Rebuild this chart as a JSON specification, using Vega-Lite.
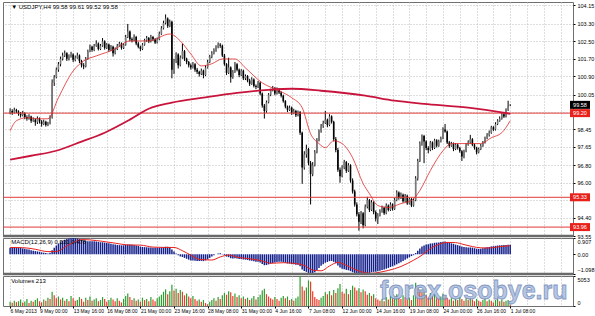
{
"$schema": "https://vega.github.io/schema/vega-lite/v6.json",
"background": "white",
"padding": {"left": 1, "top": 1, "right": 0, "bottom": 0},
"spacing": 2,
"bounds": "flush",
"config": {
 "view": {"stroke": "#707070", "strokeWidth": 1},
 "axis": {"labelFont": "Liberation Sans", "labelFontSize": 5.5, "labelColor": "#000000", "domain": false, "tickColor": "#000000", "tickSize": 2, "gridColor": "#bdbdbd", "gridDash": [1, 2], "gridWidth": 1, "title": null, "labelOverlap": false, "minExtent": 0, "tickCount": 100},
 "text": {"font": "Liberation Sans"}
},
"datasets": {
 "bars": [
{"i":0,"o":99.25,"h":99.42,"l":99.15,"c":99.30,"v":700,"u":1,"m":0.37},
{"i":1,"o":99.30,"h":99.38,"l":99.12,"c":99.22,"v":550,"u":0,"m":0.39},
{"i":2,"o":99.22,"h":99.45,"l":99.18,"c":99.35,"v":900,"u":1,"m":0.40},
{"i":3,"o":99.35,"h":99.40,"l":99.20,"c":99.28,"v":650,"u":0,"m":0.39},
{"i":4,"o":99.28,"h":99.33,"l":99.08,"c":99.18,"v":800,"u":1,"m":0.37},
{"i":5,"o":99.18,"h":99.25,"l":99.00,"c":99.10,"v":1100,"u":1,"m":0.35},
{"i":6,"o":99.10,"h":99.30,"l":99.05,"c":99.20,"v":600,"u":0,"m":0.33},
{"i":7,"o":99.20,"h":99.24,"l":98.92,"c":99.02,"v":750,"u":1,"m":0.31},
{"i":8,"o":99.02,"h":99.10,"l":98.85,"c":98.95,"v":1200,"u":1,"m":0.28},
{"i":9,"o":98.95,"h":99.15,"l":98.90,"c":99.05,"v":500,"u":0,"m":0.26},
{"i":10,"o":99.05,"h":99.08,"l":98.75,"c":98.85,"v":900,"u":1,"m":0.23},
{"i":11,"o":98.85,"h":99.00,"l":98.80,"c":98.90,"v":700,"u":0,"m":0.20},
{"i":12,"o":98.90,"h":98.95,"l":98.62,"c":98.78,"v":1000,"u":1,"m":0.18},
{"i":13,"o":98.78,"h":99.05,"l":98.70,"c":98.95,"v":1300,"u":1,"m":0.16},
{"i":14,"o":98.95,"h":99.00,"l":98.72,"c":98.82,"v":800,"u":0,"m":0.14},
{"i":15,"o":98.82,"h":98.88,"l":98.58,"c":98.70,"v":650,"u":0,"m":0.11},
{"i":16,"o":98.70,"h":98.90,"l":98.65,"c":98.80,"v":1100,"u":1,"m":0.09},
{"i":17,"o":98.80,"h":98.85,"l":98.58,"c":98.65,"v":900,"u":0,"m":0.07},
{"i":18,"o":98.65,"h":98.80,"l":98.60,"c":98.72,"v":1400,"u":1,"m":0.05},
{"i":19,"o":98.72,"h":99.10,"l":98.68,"c":99.00,"v":1200,"u":0,"m":0.09},
{"i":20,"o":99.00,"h":100.75,"l":98.95,"c":100.60,"v":2400,"u":1,"m":0.23},
{"i":21,"o":100.60,"h":100.95,"l":100.45,"c":100.85,"v":1800,"u":0,"m":0.37},
{"i":22,"o":100.85,"h":101.30,"l":100.80,"c":101.20,"v":1300,"u":0,"m":0.49},
{"i":23,"o":101.20,"h":101.55,"l":101.10,"c":101.45,"v":1600,"u":1,"m":0.59},
{"i":24,"o":101.45,"h":101.80,"l":101.35,"c":101.70,"v":1100,"u":0,"m":0.68},
{"i":25,"o":101.70,"h":101.98,"l":101.62,"c":101.85,"v":1400,"u":1,"m":0.75},
{"i":26,"o":101.85,"h":102.08,"l":101.78,"c":101.95,"v":900,"u":0,"m":0.81},
{"i":27,"o":101.95,"h":102.00,"l":101.60,"c":101.70,"v":1200,"u":1,"m":0.85},
{"i":28,"o":101.70,"h":101.90,"l":101.62,"c":101.80,"v":800,"u":0,"m":0.88},
{"i":29,"o":101.80,"h":102.02,"l":101.75,"c":101.90,"v":1700,"u":1,"m":0.90},
{"i":30,"o":101.90,"h":101.95,"l":101.55,"c":101.65,"v":1300,"u":0,"m":0.907},
{"i":31,"o":101.65,"h":101.85,"l":101.58,"c":101.75,"v":900,"u":0,"m":0.90},
{"i":32,"o":101.75,"h":101.98,"l":101.70,"c":101.85,"v":1000,"u":1,"m":0.88},
{"i":33,"o":101.85,"h":101.90,"l":101.50,"c":101.60,"v":1500,"u":1,"m":0.85},
{"i":34,"o":101.60,"h":101.65,"l":101.30,"c":101.40,"v":1200,"u":0,"m":0.80},
{"i":35,"o":101.40,"h":101.50,"l":101.22,"c":101.35,"v":700,"u":0,"m":0.76},
{"i":36,"o":101.35,"h":101.78,"l":101.30,"c":101.70,"v":1400,"u":1,"m":0.74},
{"i":37,"o":101.70,"h":102.12,"l":101.65,"c":102.05,"v":1000,"u":0,"m":0.73},
{"i":38,"o":102.05,"h":102.35,"l":102.00,"c":102.25,"v":1600,"u":1,"m":0.73},
{"i":39,"o":102.25,"h":102.30,"l":102.02,"c":102.10,"v":900,"u":0,"m":0.72},
{"i":40,"o":102.10,"h":102.38,"l":102.05,"c":102.30,"v":1100,"u":1,"m":0.72},
{"i":41,"o":102.30,"h":102.55,"l":102.25,"c":102.40,"v":1300,"u":1,"m":0.71},
{"i":42,"o":102.40,"h":102.45,"l":102.08,"c":102.15,"v":800,"u":0,"m":0.69},
{"i":43,"o":102.15,"h":102.38,"l":102.10,"c":102.30,"v":1000,"u":1,"m":0.67},
{"i":44,"o":102.30,"h":102.65,"l":102.25,"c":102.50,"v":1500,"u":1,"m":0.67},
{"i":45,"o":102.50,"h":102.55,"l":102.12,"c":102.20,"v":1200,"u":0,"m":0.65},
{"i":46,"o":102.20,"h":102.42,"l":102.15,"c":102.35,"v":700,"u":0,"m":0.63},
{"i":47,"o":102.35,"h":102.40,"l":102.02,"c":102.10,"v":1000,"u":1,"m":0.61},
{"i":48,"o":102.10,"h":102.33,"l":102.05,"c":102.25,"v":1400,"u":1,"m":0.59},
{"i":49,"o":102.25,"h":102.30,"l":101.80,"c":101.95,"v":1100,"u":0,"m":0.56},
{"i":50,"o":101.95,"h":102.22,"l":101.90,"c":102.15,"v":800,"u":0,"m":0.54},
{"i":51,"o":102.15,"h":102.38,"l":102.10,"c":102.30,"v":1300,"u":1,"m":0.52},
{"i":52,"o":102.30,"h":102.48,"l":102.25,"c":102.40,"v":900,"u":0,"m":0.51},
{"i":53,"o":102.40,"h":102.45,"l":102.12,"c":102.20,"v":600,"u":0,"m":0.50},
{"i":54,"o":102.20,"h":102.42,"l":102.15,"c":102.35,"v":1200,"u":1,"m":0.50},
{"i":55,"o":102.35,"h":102.80,"l":102.30,"c":102.70,"v":1700,"u":1,"m":0.52},
{"i":56,"o":102.70,"h":103.30,"l":102.65,"c":102.95,"v":2100,"u":1,"m":0.55},
{"i":57,"o":102.95,"h":103.00,"l":102.50,"c":102.60,"v":1500,"u":0,"m":0.55},
{"i":58,"o":102.60,"h":102.68,"l":102.45,"c":102.55,"v":1000,"u":0,"m":0.53},
{"i":59,"o":102.55,"h":102.82,"l":102.50,"c":102.70,"v":1300,"u":1,"m":0.52},
{"i":60,"o":102.70,"h":102.75,"l":102.32,"c":102.40,"v":900,"u":0,"m":0.49},
{"i":61,"o":102.40,"h":102.48,"l":102.18,"c":102.25,"v":1100,"u":1,"m":0.46},
{"i":62,"o":102.25,"h":102.30,"l":102.05,"c":102.15,"v":700,"u":0,"m":0.43},
{"i":63,"o":102.15,"h":102.42,"l":102.10,"c":102.35,"v":1400,"u":1,"m":0.41},
{"i":64,"o":102.35,"h":102.62,"l":102.30,"c":102.55,"v":1000,"u":0,"m":0.40},
{"i":65,"o":102.55,"h":102.75,"l":102.48,"c":102.65,"v":1200,"u":1,"m":0.39},
{"i":66,"o":102.65,"h":102.70,"l":102.42,"c":102.50,"v":800,"u":0,"m":0.38},
{"i":67,"o":102.50,"h":102.80,"l":102.45,"c":102.70,"v":1500,"u":1,"m":0.38},
{"i":68,"o":102.70,"h":102.75,"l":102.52,"c":102.60,"v":1100,"u":0,"m":0.37},
{"i":69,"o":102.60,"h":102.65,"l":102.38,"c":102.45,"v":800,"u":0,"m":0.36},
{"i":70,"o":102.45,"h":102.68,"l":102.40,"c":102.60,"v":1300,"u":1,"m":0.36},
{"i":71,"o":102.60,"h":102.95,"l":102.55,"c":102.85,"v":1600,"u":1,"m":0.36},
{"i":72,"o":102.85,"h":103.20,"l":102.80,"c":103.10,"v":1900,"u":1,"m":0.38},
{"i":73,"o":103.10,"h":103.45,"l":103.05,"c":103.35,"v":2400,"u":1,"m":0.40},
{"i":74,"o":103.35,"h":103.74,"l":103.28,"c":103.55,"v":2800,"u":1,"m":0.42},
{"i":75,"o":103.55,"h":103.60,"l":103.12,"c":103.20,"v":2000,"u":0,"m":0.42},
{"i":76,"o":103.20,"h":103.50,"l":103.15,"c":103.40,"v":2500,"u":1,"m":0.41},
{"i":77,"o":103.40,"h":103.45,"l":100.80,"c":101.20,"v":3600,"u":1,"m":0.26},
{"i":78,"o":101.20,"h":101.70,"l":101.00,"c":101.60,"v":2600,"u":0,"m":0.15},
{"i":79,"o":101.60,"h":102.00,"l":101.50,"c":101.90,"v":2900,"u":1,"m":0.05},
{"i":80,"o":101.90,"h":101.95,"l":101.25,"c":101.40,"v":2200,"u":0,"m":-0.05},
{"i":81,"o":101.40,"h":101.85,"l":101.35,"c":101.75,"v":2700,"u":1,"m":-0.12},
{"i":82,"o":101.75,"h":102.40,"l":101.70,"c":102.05,"v":2400,"u":0,"m":-0.15},
{"i":83,"o":102.05,"h":102.10,"l":101.60,"c":101.70,"v":1800,"u":0,"m":-0.20},
{"i":84,"o":101.70,"h":101.75,"l":101.45,"c":101.55,"v":2100,"u":1,"m":-0.25},
{"i":85,"o":101.55,"h":101.60,"l":101.30,"c":101.40,"v":1600,"u":0,"m":-0.30},
{"i":86,"o":101.40,"h":101.48,"l":101.20,"c":101.30,"v":1300,"u":0,"m":-0.34},
{"i":87,"o":101.30,"h":101.55,"l":101.25,"c":101.45,"v":1700,"u":1,"m":-0.35},
{"i":88,"o":101.45,"h":101.50,"l":101.10,"c":101.20,"v":1200,"u":0,"m":-0.36},
{"i":89,"o":101.20,"h":101.28,"l":101.00,"c":101.10,"v":900,"u":0,"m":-0.37},
{"i":90,"o":101.10,"h":101.15,"l":100.88,"c":101.00,"v":1100,"u":1,"m":-0.38},
{"i":91,"o":101.00,"h":101.25,"l":100.95,"c":101.15,"v":700,"u":0,"m":-0.37},
{"i":92,"o":101.15,"h":101.20,"l":100.80,"c":100.95,"v":1000,"u":1,"m":-0.38},
{"i":93,"o":100.95,"h":101.40,"l":100.90,"c":101.30,"v":500,"u":0,"m":-0.34},
{"i":94,"o":101.30,"h":101.65,"l":101.25,"c":101.55,"v":300,"u":0,"m":-0.28},
{"i":95,"o":101.55,"h":101.88,"l":101.50,"c":101.80,"v":700,"u":1,"m":-0.20},
{"i":96,"o":101.80,"h":102.05,"l":101.72,"c":101.95,"v":1000,"u":1,"m":-0.13},
{"i":97,"o":101.95,"h":102.18,"l":101.90,"c":102.10,"v":1300,"u":1,"m":-0.06},
{"i":98,"o":102.10,"h":102.32,"l":102.02,"c":102.25,"v":900,"u":0,"m":0.00},
{"i":99,"o":102.25,"h":102.45,"l":102.18,"c":102.35,"v":1500,"u":1,"m":0.04},
{"i":100,"o":102.35,"h":102.42,"l":102.20,"c":102.30,"v":1200,"u":0,"m":0.06},
{"i":101,"o":102.30,"h":102.35,"l":101.78,"c":101.85,"v":1800,"u":1,"m":0.02},
{"i":102,"o":101.85,"h":101.92,"l":101.38,"c":101.45,"v":2200,"u":1,"m":-0.05},
{"i":103,"o":101.45,"h":101.50,"l":100.95,"c":101.05,"v":1900,"u":0,"m":-0.13},
{"i":104,"o":101.05,"h":101.75,"l":101.00,"c":101.30,"v":2500,"u":1,"m":-0.16},
{"i":105,"o":101.30,"h":101.35,"l":100.60,"c":100.85,"v":2300,"u":0,"m":-0.22},
{"i":106,"o":100.85,"h":101.18,"l":100.78,"c":101.10,"v":1700,"u":0,"m":-0.24},
{"i":107,"o":101.10,"h":101.55,"l":101.05,"c":101.45,"v":2100,"u":1,"m":-0.22},
{"i":108,"o":101.45,"h":101.50,"l":101.12,"c":101.20,"v":1500,"u":0,"m":-0.23},
{"i":109,"o":101.20,"h":101.25,"l":100.85,"c":100.95,"v":1800,"u":1,"m":-0.26},
{"i":110,"o":100.95,"h":101.22,"l":100.90,"c":101.15,"v":1300,"u":0,"m":-0.26},
{"i":111,"o":101.15,"h":101.20,"l":100.72,"c":100.80,"v":1600,"u":1,"m":-0.29},
{"i":112,"o":100.80,"h":100.98,"l":100.72,"c":100.90,"v":1200,"u":0,"m":-0.30},
{"i":113,"o":100.90,"h":100.95,"l":100.62,"c":100.70,"v":1400,"u":1,"m":-0.32},
{"i":114,"o":100.70,"h":100.78,"l":100.45,"c":100.55,"v":1000,"u":0,"m":-0.35},
{"i":115,"o":100.55,"h":100.85,"l":100.50,"c":100.75,"v":1300,"u":1,"m":-0.36},
{"i":116,"o":100.75,"h":100.80,"l":100.38,"c":100.45,"v":1700,"u":1,"m":-0.39},
{"i":117,"o":100.45,"h":100.52,"l":100.30,"c":100.40,"v":1100,"u":0,"m":-0.42},
{"i":118,"o":100.40,"h":100.68,"l":100.35,"c":100.60,"v":1500,"u":1,"m":-0.42},
{"i":119,"o":100.60,"h":100.65,"l":100.02,"c":100.10,"v":1900,"u":1,"m":-0.46},
{"i":120,"o":100.10,"h":100.15,"l":99.45,"c":99.55,"v":2600,"u":1,"m":-0.54},
{"i":121,"o":99.55,"h":99.62,"l":98.95,"c":99.30,"v":2900,"u":1,"m":-0.61},
{"i":122,"o":99.30,"h":99.78,"l":99.22,"c":99.70,"v":2000,"u":0,"m":-0.60},
{"i":123,"o":99.70,"h":100.12,"l":99.65,"c":100.05,"v":1600,"u":0,"m":-0.56},
{"i":124,"o":100.05,"h":100.32,"l":99.98,"c":100.25,"v":1300,"u":0,"m":-0.52},
{"i":125,"o":100.25,"h":100.45,"l":100.20,"c":100.35,"v":1100,"u":0,"m":-0.48},
{"i":126,"o":100.35,"h":100.40,"l":100.02,"c":100.10,"v":1500,"u":1,"m":-0.46},
{"i":127,"o":100.10,"h":100.38,"l":100.05,"c":100.30,"v":1200,"u":0,"m":-0.43},
{"i":128,"o":100.30,"h":100.35,"l":100.08,"c":100.15,"v":900,"u":0,"m":-0.42},
{"i":129,"o":100.15,"h":100.20,"l":99.92,"c":100.00,"v":1400,"u":1,"m":-0.42},
{"i":130,"o":100.00,"h":100.05,"l":99.68,"c":99.75,"v":1700,"u":1,"m":-0.44},
{"i":131,"o":99.75,"h":99.80,"l":99.42,"c":99.50,"v":1300,"u":0,"m":-0.47},
{"i":132,"o":99.50,"h":99.55,"l":99.25,"c":99.35,"v":1600,"u":1,"m":-0.51},
{"i":133,"o":99.35,"h":99.55,"l":99.30,"c":99.45,"v":1000,"u":0,"m":-0.52},
{"i":134,"o":99.45,"h":99.50,"l":99.12,"c":99.20,"v":1200,"u":1,"m":-0.55},
{"i":135,"o":99.20,"h":99.40,"l":99.15,"c":99.30,"v":900,"u":0,"m":-0.56},
{"i":136,"o":99.30,"h":99.35,"l":99.02,"c":99.10,"v":1300,"u":1,"m":-0.58},
{"i":137,"o":99.10,"h":99.32,"l":99.05,"c":99.25,"v":1600,"u":1,"m":-0.58},
{"i":138,"o":99.25,"h":99.30,"l":98.20,"c":98.30,"v":5053,"u":1,"m":-0.66},
{"i":139,"o":98.30,"h":98.35,"l":95.95,"c":96.70,"v":3300,"u":0,"m":-0.85},
{"i":140,"o":96.70,"h":97.45,"l":96.60,"c":97.30,"v":2600,"u":0,"m":-0.93},
{"i":141,"o":97.30,"h":97.75,"l":97.15,"c":97.55,"v":3100,"u":1,"m":-0.98},
{"i":142,"o":97.55,"h":97.60,"l":96.80,"c":96.90,"v":4300,"u":1,"m":-1.05},
{"i":143,"o":96.90,"h":97.00,"l":95.00,"c":96.40,"v":4100,"u":0,"m":-1.098},
{"i":144,"o":96.40,"h":96.95,"l":96.30,"c":96.80,"v":2500,"u":0,"m":-1.08},
{"i":145,"o":96.80,"h":97.50,"l":96.75,"c":97.40,"v":1500,"u":0,"m":-1.00},
{"i":146,"o":97.40,"h":98.05,"l":97.35,"c":97.95,"v":1200,"u":0,"m":-0.88},
{"i":147,"o":97.95,"h":98.45,"l":97.90,"c":98.35,"v":1000,"u":0,"m":-0.76},
{"i":148,"o":98.35,"h":98.70,"l":98.30,"c":98.60,"v":1400,"u":1,"m":-0.64},
{"i":149,"o":98.60,"h":98.85,"l":98.52,"c":98.75,"v":1700,"u":1,"m":-0.55},
{"i":150,"o":98.75,"h":99.30,"l":98.70,"c":98.90,"v":2300,"u":1,"m":-0.47},
{"i":151,"o":98.90,"h":98.95,"l":98.55,"c":98.65,"v":2000,"u":0,"m":-0.43},
{"i":152,"o":98.65,"h":99.15,"l":98.60,"c":99.05,"v":2500,"u":1,"m":-0.38},
{"i":153,"o":99.05,"h":99.10,"l":98.72,"c":98.80,"v":1800,"u":0,"m":-0.37},
{"i":154,"o":98.80,"h":98.85,"l":97.90,"c":98.00,"v":2700,"u":1,"m":-0.42},
{"i":155,"o":98.00,"h":98.10,"l":97.40,"c":97.50,"v":2200,"u":0,"m":-0.50},
{"i":156,"o":97.50,"h":97.60,"l":96.50,"c":96.60,"v":3000,"u":1,"m":-0.62},
{"i":157,"o":96.60,"h":96.70,"l":96.00,"c":96.30,"v":3700,"u":1,"m":-0.74},
{"i":158,"o":96.30,"h":96.80,"l":96.25,"c":96.70,"v":2400,"u":0,"m":-0.80},
{"i":159,"o":96.70,"h":97.05,"l":96.62,"c":96.95,"v":2100,"u":0,"m":-0.83},
{"i":160,"o":96.95,"h":97.00,"l":96.45,"c":96.55,"v":2900,"u":1,"m":-0.87},
{"i":161,"o":96.55,"h":96.90,"l":96.50,"c":96.80,"v":2000,"u":0,"m":-0.89},
{"i":162,"o":96.80,"h":96.85,"l":96.00,"c":96.10,"v":2700,"u":1,"m":-0.94},
{"i":163,"o":96.10,"h":96.20,"l":95.50,"c":95.60,"v":3400,"u":1,"m":-1.00},
{"i":164,"o":95.60,"h":95.68,"l":94.90,"c":95.00,"v":3100,"u":0,"m":-1.04},
{"i":165,"o":95.00,"h":95.10,"l":94.45,"c":94.55,"v":2600,"u":0,"m":-1.07},
{"i":166,"o":94.55,"h":94.65,"l":93.80,"c":94.20,"v":3000,"u":1,"m":-1.09},
{"i":167,"o":94.20,"h":94.70,"l":94.10,"c":94.60,"v":2300,"u":0,"m":-1.09},
{"i":168,"o":94.60,"h":94.65,"l":93.90,"c":94.05,"v":2800,"u":1,"m":-1.09},
{"i":169,"o":94.05,"h":95.00,"l":94.00,"c":94.90,"v":2500,"u":0,"m":-1.08},
{"i":170,"o":94.90,"h":95.35,"l":94.82,"c":95.20,"v":1900,"u":0,"m":-1.06},
{"i":171,"o":95.20,"h":95.25,"l":94.65,"c":94.75,"v":2200,"u":1,"m":-1.04},
{"i":172,"o":94.75,"h":95.20,"l":94.70,"c":95.10,"v":1700,"u":0,"m":-1.00},
{"i":173,"o":95.10,"h":95.15,"l":94.55,"c":94.65,"v":2000,"u":1,"m":-0.98},
{"i":174,"o":94.65,"h":94.72,"l":94.22,"c":94.35,"v":1300,"u":0,"m":-0.97},
{"i":175,"o":94.35,"h":94.60,"l":94.10,"c":94.50,"v":1100,"u":0,"m":-0.95},
{"i":176,"o":94.50,"h":94.78,"l":94.45,"c":94.70,"v":900,"u":0,"m":-0.92},
{"i":177,"o":94.70,"h":94.95,"l":94.62,"c":94.85,"v":1200,"u":1,"m":-0.88},
{"i":178,"o":94.85,"h":94.90,"l":94.52,"c":94.60,"v":800,"u":0,"m":-0.85},
{"i":179,"o":94.60,"h":95.05,"l":94.55,"c":94.95,"v":1500,"u":1,"m":-0.80},
{"i":180,"o":94.95,"h":95.00,"l":94.68,"c":94.75,"v":1100,"u":0,"m":-0.76},
{"i":181,"o":94.75,"h":95.10,"l":94.70,"c":95.00,"v":1700,"u":1,"m":-0.71},
{"i":182,"o":95.00,"h":95.05,"l":94.72,"c":94.80,"v":1300,"u":0,"m":-0.67},
{"i":183,"o":94.80,"h":95.30,"l":94.75,"c":95.20,"v":1600,"u":1,"m":-0.62},
{"i":184,"o":95.20,"h":95.65,"l":95.15,"c":95.55,"v":2000,"u":1,"m":-0.56},
{"i":185,"o":95.55,"h":95.60,"l":95.22,"c":95.30,"v":1400,"u":0,"m":-0.50},
{"i":186,"o":95.30,"h":95.55,"l":95.25,"c":95.45,"v":1200,"u":0,"m":-0.44},
{"i":187,"o":95.45,"h":95.50,"l":95.08,"c":95.15,"v":1800,"u":1,"m":-0.38},
{"i":188,"o":95.15,"h":95.48,"l":95.10,"c":95.40,"v":1500,"u":0,"m":-0.31},
{"i":189,"o":95.40,"h":95.45,"l":94.98,"c":95.05,"v":1100,"u":0,"m":-0.24},
{"i":190,"o":95.05,"h":95.32,"l":95.00,"c":95.25,"v":1400,"u":1,"m":-0.17},
{"i":191,"o":95.25,"h":95.30,"l":94.88,"c":94.95,"v":1000,"u":0,"m":-0.10},
{"i":192,"o":94.95,"h":95.28,"l":94.90,"c":95.20,"v":1800,"u":1,"m":-0.05},
{"i":193,"o":95.20,"h":96.30,"l":95.15,"c":96.20,"v":3900,"u":1,"m":0.07},
{"i":194,"o":96.20,"h":97.10,"l":96.10,"c":97.00,"v":3200,"u":0,"m":0.19},
{"i":195,"o":97.00,"h":97.90,"l":96.95,"c":97.80,"v":2700,"u":0,"m":0.32},
{"i":196,"o":97.80,"h":98.22,"l":97.70,"c":98.15,"v":2300,"u":0,"m":0.43},
{"i":197,"o":98.15,"h":98.20,"l":96.90,"c":97.90,"v":2900,"u":1,"m":0.49},
{"i":198,"o":97.90,"h":97.95,"l":97.50,"c":97.60,"v":1800,"u":0,"m":0.54},
{"i":199,"o":97.60,"h":97.68,"l":97.35,"c":97.50,"v":1400,"u":0,"m":0.56},
{"i":200,"o":97.50,"h":97.92,"l":97.45,"c":97.85,"v":2200,"u":1,"m":0.60},
{"i":201,"o":97.85,"h":97.90,"l":97.50,"c":97.60,"v":1700,"u":0,"m":0.61},
{"i":202,"o":97.60,"h":98.02,"l":97.55,"c":97.95,"v":2000,"u":1,"m":0.64},
{"i":203,"o":97.95,"h":98.00,"l":97.62,"c":97.70,"v":1500,"u":0,"m":0.65},
{"i":204,"o":97.70,"h":97.98,"l":97.65,"c":97.90,"v":1200,"u":0,"m":0.66},
{"i":205,"o":97.90,"h":98.12,"l":97.85,"c":98.05,"v":1600,"u":1,"m":0.68},
{"i":206,"o":98.05,"h":98.55,"l":98.00,"c":98.45,"v":2100,"u":1,"m":0.70},
{"i":207,"o":98.45,"h":98.70,"l":98.30,"c":98.35,"v":1800,"u":0,"m":0.71},
{"i":208,"o":98.35,"h":98.40,"l":97.78,"c":97.85,"v":1400,"u":0,"m":0.69},
{"i":209,"o":97.85,"h":97.92,"l":97.60,"c":97.70,"v":1100,"u":0,"m":0.65},
{"i":210,"o":97.70,"h":97.88,"l":97.65,"c":97.80,"v":1300,"u":1,"m":0.61},
{"i":211,"o":97.80,"h":97.85,"l":97.45,"c":97.55,"v":900,"u":0,"m":0.58},
{"i":212,"o":97.55,"h":97.82,"l":97.50,"c":97.75,"v":1200,"u":1,"m":0.54},
{"i":213,"o":97.75,"h":97.80,"l":97.52,"c":97.60,"v":1000,"u":0,"m":0.51},
{"i":214,"o":97.60,"h":97.65,"l":97.38,"c":97.45,"v":1500,"u":1,"m":0.48},
{"i":215,"o":97.45,"h":97.50,"l":97.00,"c":97.20,"v":1200,"u":0,"m":0.43},
{"i":216,"o":97.20,"h":97.52,"l":97.12,"c":97.45,"v":900,"u":0,"m":0.40},
{"i":217,"o":97.45,"h":97.82,"l":97.40,"c":97.75,"v":1300,"u":1,"m":0.39},
{"i":218,"o":97.75,"h":97.95,"l":97.70,"c":97.85,"v":1000,"u":0,"m":0.38},
{"i":219,"o":97.85,"h":98.20,"l":97.80,"c":98.00,"v":1400,"u":1,"m":0.38},
{"i":220,"o":98.00,"h":98.05,"l":97.68,"c":97.75,"v":1100,"u":0,"m":0.37},
{"i":221,"o":97.75,"h":97.80,"l":97.52,"c":97.60,"v":800,"u":0,"m":0.34},
{"i":222,"o":97.60,"h":97.65,"l":97.30,"c":97.40,"v":1200,"u":1,"m":0.31},
{"i":223,"o":97.40,"h":97.62,"l":97.35,"c":97.55,"v":900,"u":0,"m":0.30},
{"i":224,"o":97.55,"h":97.78,"l":97.50,"c":97.70,"v":700,"u":0,"m":0.31},
{"i":225,"o":97.70,"h":97.92,"l":97.65,"c":97.85,"v":1000,"u":1,"m":0.33},
{"i":226,"o":97.85,"h":98.12,"l":97.80,"c":98.05,"v":1300,"u":1,"m":0.36},
{"i":227,"o":98.05,"h":98.28,"l":98.00,"c":98.20,"v":800,"u":0,"m":0.39},
{"i":228,"o":98.20,"h":98.40,"l":98.12,"c":98.30,"v":1100,"u":1,"m":0.41},
{"i":229,"o":98.30,"h":98.62,"l":98.25,"c":98.55,"v":900,"u":0,"m":0.44},
{"i":230,"o":98.55,"h":98.60,"l":98.38,"c":98.45,"v":600,"u":0,"m":0.45},
{"i":231,"o":98.45,"h":98.78,"l":98.40,"c":98.70,"v":1000,"u":1,"m":0.47},
{"i":232,"o":98.70,"h":98.92,"l":98.65,"c":98.85,"v":1200,"u":1,"m":0.49},
{"i":233,"o":98.85,"h":99.05,"l":98.80,"c":98.95,"v":800,"u":0,"m":0.50},
{"i":234,"o":98.95,"h":99.22,"l":98.90,"c":99.15,"v":1100,"u":1,"m":0.51},
{"i":235,"o":99.15,"h":99.20,"l":98.98,"c":99.05,"v":700,"u":0,"m":0.52},
{"i":236,"o":99.05,"h":99.42,"l":99.00,"c":99.35,"v":900,"u":1,"m":0.52},
{"i":237,"o":99.35,"h":99.77,"l":99.30,"c":99.50,"v":1000,"u":1,"m":0.53},
{"i":238,"o":99.58,"h":99.61,"l":99.52,"c":99.58,"v":213,"u":0,"m":0.531}
 ],
 "ma1": [
{"i":0,"p":98.39},{"i":3,"p":98.85},{"i":8,"p":98.99},{"i":14,"p":98.94},{"i":18,"p":98.94},{"i":23,"p":99.91},{"i":30,"p":101.14},{"i":35,"p":101.60},{"i":41,"p":101.83},{"i":50,"p":102.15},{"i":57,"p":102.52},{"i":66,"p":102.52},{"i":76,"p":102.84},{"i":81,"p":102.52},{"i":86,"p":101.92},{"i":91,"p":101.37},{"i":96,"p":101.47},{"i":101,"p":101.69},{"i":107,"p":101.69},{"i":112,"p":101.28},{"i":120,"p":100.59},{"i":128,"p":100.23},{"i":134,"p":99.91},{"i":139,"p":99.45},{"i":143,"p":98.25},{"i":147,"p":97.80},{"i":150,"p":97.61},{"i":154,"p":97.93},{"i":158,"p":97.80},{"i":163,"p":97.15},{"i":168,"p":95.96},{"i":171,"p":95.50},{"i":175,"p":94.95},{"i":180,"p":94.86},{"i":186,"p":95.04},{"i":191,"p":95.18},{"i":195,"p":95.64},{"i":200,"p":96.56},{"i":206,"p":97.47},{"i":210,"p":97.80},{"i":220,"p":97.80},{"i":224,"p":97.80},{"i":229,"p":98.07},{"i":234,"p":98.30},{"i":238,"p":98.85}
 ],
 "ma2": [
{"i":0,"p":97.06},{"i":10,"p":97.24},{"i":22,"p":97.47},{"i":34,"p":97.89},{"i":45,"p":98.30},{"i":57,"p":98.90},{"i":66,"p":99.40},{"i":77,"p":99.68},{"i":92,"p":99.91},{"i":108,"p":100.13},{"i":123,"p":100.27},{"i":134,"p":100.32},{"i":148,"p":100.23},{"i":169,"p":100.00},{"i":183,"p":99.77},{"i":197,"p":99.63},{"i":218,"p":99.45},{"i":238,"p":99.17}
 ],
 "sig": [
{"i":0,"s":0.38},{"i":6,"s":0.37},{"i":12,"s":0.28},{"i":18,"s":0.15},{"i":22,"s":0.15},{"i":26,"s":0.40},{"i":30,"s":0.65},{"i":34,"s":0.82},{"i":38,"s":0.80},{"i":44,"s":0.72},{"i":50,"s":0.62},{"i":56,"s":0.52},{"i":62,"s":0.51},{"i":68,"s":0.40},{"i":74,"s":0.38},{"i":78,"s":0.38},{"i":82,"s":0.20},{"i":86,"s":-0.05},{"i":90,"s":-0.28},{"i":96,"s":-0.32},{"i":100,"s":-0.15},{"i":104,"s":-0.04},{"i":108,"s":-0.16},{"i":114,"s":-0.25},{"i":120,"s":-0.37},{"i":124,"s":-0.50},{"i":130,"s":-0.47},{"i":136,"s":-0.52},{"i":140,"s":-0.62},{"i":144,"s":-0.88},{"i":148,"s":-0.92},{"i":152,"s":-0.65},{"i":156,"s":-0.45},{"i":160,"s":-0.62},{"i":164,"s":-0.84},{"i":168,"s":-1.00},{"i":172,"s":-1.06},{"i":176,"s":-1.00},{"i":180,"s":-0.90},{"i":186,"s":-0.68},{"i":192,"s":-0.33},{"i":196,"s":-0.05},{"i":200,"s":0.32},{"i":204,"s":0.55},{"i":208,"s":0.66},{"i":212,"s":0.65},{"i":216,"s":0.54},{"i":220,"s":0.43},{"i":224,"s":0.36},{"i":228,"s":0.35},{"i":232,"s":0.41},{"i":236,"s":0.46},{"i":238,"s":0.48}
 ],
 "lv": [{"p":99.20},{"p":95.33},{"p":93.96}],
 "tags": [{"p":99.58,"t":"99.58","k":"cur"},{"p":99.20,"t":"99.20","k":"lvl"},{"p":95.33,"t":"95.33","k":"lvl"},{"p":93.96,"t":"93.96","k":"lvl"}]
},
"vconcat": [
 {
  "width": 570, "height": 234,
  "layer": [
   {"data": {"name": "bars"}, "mark": {"type": "rule", "color": "#000000", "strokeWidth": 1},
    "encoding": {
     "x": {"field": "i", "type": "quantitative", "scale": {"domain": [-1, 265.5], "nice": false, "zero": false},
           "axis": {"values": [0,6,14,22,30,38,46,54,62,70,78,86,94,102,110,118,126,134,142,150,158,166,174,182,190,198,206,214,222,230,238,246,254,262], "labels": false, "ticks": false, "grid": true, "tickCount": 100}},
     "y": {"field": "l", "type": "quantitative", "scale": {"domain": [93.55, 104.31], "nice": false, "zero": false},
           "axis": {"orient": "right", "values": [104.15,103.3,102.5,101.7,100.9,100.05,99.25,98.45,97.65,96.8,96.0,95.2,94.4,93.55], "tickCount": 100, "labelExpr": "(datum.value == 99.25 || datum.value == 95.2) ? '' : format(datum.value, '.2f')", "grid": true, "labelPadding": 2, "labelOverlap": false}},
     "y2": {"field": "h"}
    }},
   {"data": {"name": "bars"}, "mark": {"type": "bar", "width": 1.6},
    "encoding": {
     "x": {"field": "i", "type": "quantitative"},
     "y": {"field": "o", "type": "quantitative"},
     "y2": {"field": "c"},
     "color": {"condition": {"test": "datum.c >= datum.o", "value": "#7a7a7a"}, "value": "#000000"}
    }},
   {"data": {"name": "lv"}, "mark": {"type": "rule", "color": "#e23a3a", "strokeWidth": 1},
    "encoding": {"y": {"field": "p", "type": "quantitative"}}},
   {"data": {"name": "ma2"}, "mark": {"type": "line", "color": "#c8143c", "strokeWidth": 1.8, "interpolate": "monotone"},
    "encoding": {"x": {"field": "i", "type": "quantitative"}, "y": {"field": "p", "type": "quantitative"}}},
   {"data": {"name": "ma1"}, "mark": {"type": "line", "color": "#e02828", "strokeWidth": 0.8, "interpolate": "monotone"},
    "encoding": {"x": {"field": "i", "type": "quantitative"}, "y": {"field": "p", "type": "quantitative"}}},
   {"data": {"values": [{}]}, "mark": {"type": "rule", "color": "#6a6a6a", "strokeWidth": 2.5},
    "encoding": {"y": {"datum": 93.55}}},
   {"data": {"name": "tags"}, "mark": {"type": "tick", "orient": "horizontal", "thickness": 8, "size": 20, "opacity": 1},
    "encoding": {"x": {"datum": 271.2}, "y": {"field": "p", "type": "quantitative"},
     "color": {"condition": {"test": "datum.k == 'cur'", "value": "#000000"}, "value": "#e8221a"}}},
   {"data": {"name": "tags"}, "mark": {"type": "text", "fontSize": 5.5, "color": "#ffffff", "align": "center", "baseline": "middle"},
    "encoding": {"x": {"datum": 271.2}, "y": {"field": "p", "type": "quantitative"}, "text": {"field": "t", "type": "nominal"}}},
   {"data": {"values": [{}]}, "mark": {"type": "text", "text": "▼ USDJPY,H4  99.58 99.61 99.52 99.58", "fontSize": 6, "color": "#000000", "align": "left", "baseline": "middle"},
    "encoding": {"x": {"datum": 0.5}, "y": {"datum": 104.08}}}
  ]
 },
 {
  "width": 570, "height": 36,
  "layer": [
   {"data": {"name": "bars"}, "mark": {"type": "bar", "width": 1.5, "color": "#16228c"},
    "encoding": {
     "x": {"field": "i", "type": "quantitative", "scale": {"domain": [-1, 265.5], "nice": false, "zero": false},
           "axis": {"values": [0,6,14,22,30,38,46,54,62,70,78,86,94,102,110,118,126,134,142,150,158,166,174,182,190,198,206,214,222,230,238,246,254,262], "labels": false, "ticks": false, "grid": true, "tickCount": 100}},
     "y": {"field": "m", "type": "quantitative", "scale": {"domain": [-1.098, 0.907], "nice": false, "zero": false},
           "axis": {"orient": "right", "values": [0.907, 0, -1.098], "tickCount": 100, "labelExpr": "datum.value == 0 ? '0.00' : format(datum.value, '.3f')", "grid": false, "labelFlush": true, "labelFlushOffset": -1.5, "labelPadding": 2, "labelOverlap": false}},
     "y2": {"datum": 0}
    }},
   {"data": {"name": "sig"}, "mark": {"type": "line", "color": "#e8201c", "strokeWidth": 1, "interpolate": "monotone"},
    "encoding": {"x": {"field": "i", "type": "quantitative"}, "y": {"field": "s", "type": "quantitative"}}},
   {"data": {"values": [{}]}, "mark": {"type": "rule", "color": "#6a6a6a", "strokeWidth": 2.5},
    "encoding": {"y": {"datum": -1.098}}},
   {"data": {"values": [{}]}, "mark": {"type": "text", "text": "MACD(12,26,9) 0.531 0.478", "fontSize": 6, "color": "#000000", "align": "left", "baseline": "middle"},
    "encoding": {"x": {"datum": 0.5}, "y": {"datum": 0.68}}}
  ]
 },
 {
  "width": 570, "height": 30,
  "layer": [
   {"data": {"name": "bars"}, "mark": {"type": "bar", "width": 1.2},
    "encoding": {
     "x": {"field": "i", "type": "quantitative", "scale": {"domain": [-1, 265.5], "nice": false, "zero": false},
           "axis": {"values": [0,6,14,22,30,38,46,54,62,70,78,86,94,102,110,118,126,134,142,150,158,166,174,182,190,198,206,214,222,230,238,246,254,262], "tickCount": 100, "grid": true, "labelAlign": "left", "labelBaseline": "top", "labelPadding": 0, "labelFontSize": 5, "labelOverlap": false,
             "labelExpr": "indexof([0,14,30,46,62,78,94,110,126,142,158,174,190,206,222,238], datum.value) >= 0 ? ['6 May 2013','9 May 00:00','13 May 16:00','16 May 08:00','21 May 00:00','23 May 16:00','28 May 08:00','31 May 00:00','4 Jun 16:00','7 Jun 08:00','12 Jun 00:00','14 Jun 16:00','19 Jun 08:00','24 Jun 00:00','26 Jun 16:00','1 Jul 08:00'][indexof([0,14,30,46,62,78,94,110,126,142,158,174,190,206,222,238], datum.value)] : ''",
             "tickOpacity": {"condition": {"test": "indexof([0,14,30,46,62,78,94,110,126,142,158,174,190,206,222,238], datum.value) < 0", "value": 0}, "value": 1}}},
     "y": {"field": "v", "type": "quantitative", "scale": {"domain": [0, 5053], "nice": false},
           "axis": {"orient": "right", "values": [5053, 0], "tickCount": 100, "grid": false, "labelFlush": true, "labelFlushOffset": -1, "labelPadding": 2, "format": "d", "labelOverlap": false}},
     "y2": {"datum": 0},
     "color": {"condition": {"test": "datum.u == 1", "value": "#2e9e2e"}, "value": "#ee3a26"}
    }},
   {"data": {"values": [{}]}, "mark": {"type": "text", "text": "Volumes 213", "fontSize": 6, "color": "#000000", "align": "left", "baseline": "middle"},
    "encoding": {"x": {"datum": 0.5}, "y": {"datum": 4200}}},
   {"data": {"values": [{}]}, "mark": {"type": "text", "text": "forex.osobye.ru", "font": "Liberation Sans", "fontWeight": "bold", "fontSize": 25, "color": "#a9bddf", "stroke": "#6f86b6", "strokeWidth": 0.8, "opacity": 0.85, "align": "left", "baseline": "alphabetic"},
    "encoding": {"x": {"datum": 176}, "y": {"datum": 1250}}}
  ]
 }
]
}
